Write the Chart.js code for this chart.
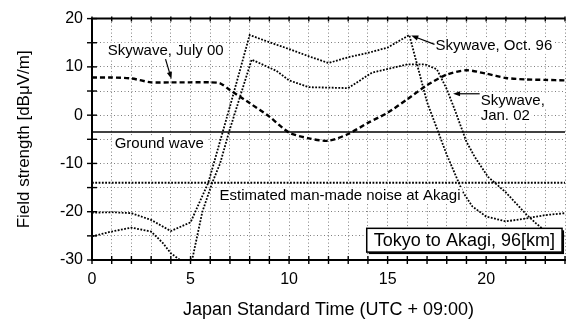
<!DOCTYPE html>
<html><head><meta charset="utf-8">
<script src="https://cdn.jsdelivr.net/npm/chart.js@4.4.0/dist/chart.umd.min.js"></script>
<style>html,body{margin:0;padding:0;background:#fff;}#wrap{width:575px;height:322px;position:relative;}</style>
</head><body><div id="wrap"><canvas id="c"></canvas></div>
<script>
// ---- data (hours JST, field strength dBuV/m) ----
const julyHours = [0,1,2,3,4,5,6,6.5,7,8,9,10,11,12,13,14,15,16,17,18,19,20,21,22,23,24];
const july00    = [7.8,7.8,7.6,6.8,6.8,6.8,6.8,6.6,5.2,2.5,-0.3,-3.6,-4.8,-5.3,-3.9,-1.6,0.5,3.3,6.2,8.4,9.3,8.6,7.7,7.4,7.3,7.2];

const octHours  = [0,1,2,3,4,5,5.9,7,8,9,10,11,12,13,14,15,16.1,17,18,18.8,19.3,20,21,22,23,24];
const oct96     = [-20.2,-20.1,-20.3,-21.7,-24,-22.2,-14,1.8,16.6,15.1,13.7,12.2,10.8,12,12.9,14,16.6,2.7,-8.2,-15.8,-18.9,-21,-22,-21.4,-20.7,-20.3];

const janHours  = [0,1,2,3,3.6,4,4.4,4.75,5.1,5.6,6.1,6.5,6.95,8.1,9.35,10,11,13,14.2,16,16.9,17.5,18,18.4,19,19.4,20.1,21,22,22.5,23,24];
const jan02     = [-25.1,-24.1,-23.3,-24.1,-26.5,-28.6,-29.8,-31,-29.6,-20,-14,-10,-3.5,11.5,9.2,7.2,5.8,5.6,8.8,10.5,10.5,9.5,5.4,1.2,-5.5,-8.5,-12.8,-16,-20.4,-22.3,-24,-25];

const flatHours   = [0,24];
const groundWave  = [-3.5,-3.5];
const manMadeNoise= [-14,-14];

const xTickLabels = [0,5,10,15,20];
const yTickLabels = [-30,-20,-10,0,10,20];

const toPts = (hs, vs) => hs.map((h,i)=>({x:h, y:vs[i]}));

// ---- annotation texts (anchors in data units) ----
const FONT = "'Liberation Sans', Arial, Helvetica, sans-serif";
const notes = [
  {text:'Skywave, July 00', h:0.8, v:13.34},
  {text:'Ground wave', h:1.15, v:-5.92},
  {text:'Estimated man-made noise at Akagi', h:6.47, v:-16.58},
  {text:'Skywave, Oct. 96', h:17.43, v:14.36},
  {text:'Skywave,', h:19.72, v:3.0},
  {text:'Jan. 02', h:19.72, v:-0.08}
];
const arrows = [
  {h1:3.73, v1:11.6, h2:4.03, v2:7.5},
  {h1:17.38, v1:14.67, h2:16.2, v2:16.5},
  {h1:19.67, v1:4.43, h2:18.32, v2:4.43}
];
const boxNote = {text:'Tokyo to Akagi, 96[km]', h1:13.94, h2:23.85, v1:-23.44, v2:-28.36};

const annot = {
  id:'annot',
  afterDatasetsDraw(chart){
    const ctx = chart.ctx, a = chart.chartArea, xs = chart.scales.x, ys = chart.scales.y;
    const X = h => xs.getPixelForValue(h), Y = v => ys.getPixelForValue(v);
    ctx.save();
    // top frame line
    ctx.strokeStyle = '#000'; ctx.lineWidth = 2; ctx.setLineDash([]);
    ctx.beginPath(); ctx.moveTo(a.left-1, a.top); ctx.lineTo(a.right, a.top); ctx.stroke();
    // crossing tick marks
    ctx.lineWidth = 1.4;
    for (let h=0; h<=24; h++){
      const x = X(h);
      ctx.beginPath(); ctx.moveTo(x, a.bottom-4); ctx.lineTo(x, a.bottom+4);
      ctx.moveTo(x, a.top-2); ctx.lineTo(x, a.top+3); ctx.stroke();
    }
    for (let v=-30; v<=20; v+=5){
      const y = Y(v);
      ctx.beginPath(); ctx.moveTo(a.left-5, y); ctx.lineTo(a.left+5, y); ctx.stroke();
    }
    // labels
    ctx.font = '15px ' + FONT; ctx.textBaseline = 'middle'; ctx.textAlign = 'left';
    notes.forEach(n=>{
      const x = X(n.h), y = Y(n.v), w = ctx.measureText(n.text).width;
      ctx.fillStyle = '#fff'; ctx.fillRect(x-2, y-8, w+4, 16);
      ctx.fillStyle = '#000'; ctx.fillText(n.text, x, y+0.5);
    });
    // arrows
    arrows.forEach(r=>{
      const x1=X(r.h1), y1=Y(r.v1), x2=X(r.h2), y2=Y(r.v2);
      const ang = Math.atan2(y2-y1, x2-x1), L=7, W=2.6;
      ctx.strokeStyle='#000'; ctx.lineWidth=1.2;
      ctx.beginPath(); ctx.moveTo(x1,y1); ctx.lineTo(x2-Math.cos(ang)*L*0.8, y2-Math.sin(ang)*L*0.8); ctx.stroke();
      ctx.fillStyle='#000'; ctx.beginPath();
      ctx.moveTo(x2,y2);
      ctx.lineTo(x2-Math.cos(ang)*L - Math.sin(ang)*W, y2-Math.sin(ang)*L + Math.cos(ang)*W);
      ctx.lineTo(x2-Math.cos(ang)*L + Math.sin(ang)*W, y2-Math.sin(ang)*L - Math.cos(ang)*W);
      ctx.closePath(); ctx.fill();
    });
    // boxed note
    const bx1=X(boxNote.h1), bx2=X(boxNote.h2), by1=Y(boxNote.v1), by2=Y(boxNote.v2);
    ctx.fillStyle='#000'; ctx.fillRect(bx1+2, by1+2, bx2-bx1, by2-by1);
    ctx.fillStyle='#fff'; ctx.fillRect(bx1, by1, bx2-bx1, by2-by1);
    ctx.strokeStyle='#000'; ctx.lineWidth=1.5; ctx.strokeRect(bx1, by1, bx2-bx1, by2-by1);
    ctx.font = '18px ' + FONT; ctx.textAlign='center'; ctx.fillStyle='#000';
    ctx.fillText(boxNote.text, (bx1+bx2)/2, (by1+by2)/2+1);
    ctx.restore();
  }
};

const dotted = {borderColor:'#000', borderWidth:1.8, borderDash:[1.8,1.5], pointRadius:0, tension:0, fill:false};
new Chart(document.getElementById('c'), {
  type:'line',
  data:{datasets:[
    {label:'Skywave, July 00', data:toPts(julyHours, july00), borderColor:'#000', borderWidth:2.4, borderDash:[5,3], pointRadius:0, tension:0.25, fill:false},
    Object.assign({label:'Skywave, Oct. 96', data:toPts(octHours, oct96)}, dotted),
    Object.assign({label:'Skywave, Jan. 02', data:toPts(janHours, jan02)}, dotted),
    {label:'Ground wave', data:toPts(flatHours, groundWave), borderColor:'#000', borderWidth:1.6, pointRadius:0, fill:false},
    Object.assign({label:'Estimated man-made noise at Akagi', data:toPts(flatHours, manMadeNoise)}, dotted)
  ]},
  options:{
    responsive:true, maintainAspectRatio:false, animation:false,
    layout:{padding:{top:16, right:1, left:0, bottom:0}},
    plugins:{legend:{display:false}, tooltip:{enabled:false}},
    scales:{
      x:{type:'linear', min:0, max:24,
        afterFit(s){ s.height = 62; },
        ticks:{stepSize:1, autoSkip:false, maxRotation:0, padding:10, color:'#000',
          font:{family:FONT, size:16},
          callback:v => xTickLabels.includes(v) ? String(v) : ''},
        grid:{color:'rgba(0,0,0,0.5)', lineWidth:1, drawTicks:false},
        border:{display:true, color:'#000', width:2, dash:[1,2.5]},
        title:{display:true, text:'Japan Standard Time (UTC + 09:00)', color:'#000',
          font:{family:FONT, size:18}, padding:{top:0, bottom:1}}
      },
      y:{type:'linear', min:-30, max:20,
        afterFit(s){ s.width = 92; },
        ticks:{stepSize:5, autoSkip:false, padding:9, color:'#000',
          font:{family:FONT, size:16},
          callback:v => yTickLabels.includes(v) ? String(v) : ''},
        grid:{color:'rgba(0,0,0,0.5)', lineWidth:1, drawTicks:false},
        border:{display:true, color:'#000', width:2, dash:[1,2.5]},
        title:{display:true, text:'Field strength [dBμV/m]', color:'#000',
          font:{family:FONT, size:17}, padding:{top:14, bottom:0}}
      }
    }
  },
  plugins:[annot]
});
</script></body></html>
